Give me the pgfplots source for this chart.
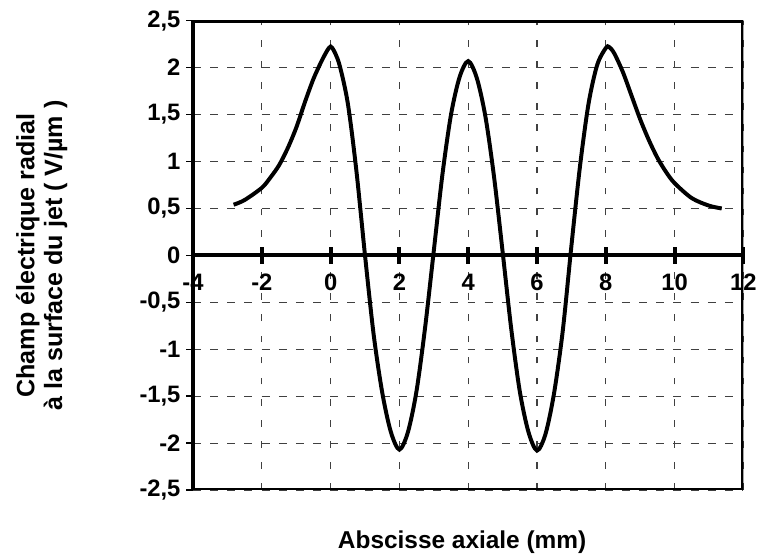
\documentclass[border=0pt]{standalone}
\usepackage{fontspec}
\setmainfont{Liberation Sans}
\usepackage{pgfplots}
\pgfplotsset{compat=1.18}
\begin{document}
\begin{tikzpicture}
\begin{axis}[
  scale only axis, width=417pt, height=355.5pt,
  xmin=-4, xmax=12, ymin=-2.5, ymax=2.5,
  axis x line*=middle, axis y line*=left,
  hide obscured x ticks=false, hide obscured y ticks=false,
  xtick={-4,-2,0,2,4,6,8,10,12},
  ytick={-2.5,-2,-1.5,-1,-0.5,0,0.5,1,1.5,2,2.5},
  grid=major,
  major x grid style={black!75, line width=0.8pt, dash pattern=on 5pt off 11pt},
  major y grid style={black!75, line width=0.8pt, dash pattern=on 6pt off 7pt},
  axis line style={line width=3pt, black},
  major tick length=5pt,
  xtick align=center, ytick align=outside,
  xtick style={line width=3pt, black, /pgfplots/major tick length=13pt},
  ytick style={line width=1pt, black},
  ticklabel style={font=\fontsize{18}{20}\selectfont\bfseries},
  xticklabel style={yshift=-8pt},
  yticklabel style={xshift=-1pt},
  /pgf/number format/.cd, use comma, fixed, assume math mode=true,
  /pgfplots/.cd,
  xlabel={Abscisse axiale (mm)},
  every axis x label/.style={at={(axis description cs:0.489,-0.112)}, anchor=center,
    font=\fontsize{18.5}{21}\selectfont\bfseries},
  ylabel={Champ électrique radial\\à la surface du jet ( V/µm )},
  every axis y label/.style={at={(axis description cs:-0.275,0.5)}, rotate=90,
    anchor=center, align=center, font=\fontsize{19}{21}\selectfont\bfseries},
]
\addplot[black, line width=3pt, smooth] coordinates {
(-2.82,0.54) (-2.5,0.59) (-2.0,0.72) (-1.75,0.83) (-1.5,0.96) (-1.25,1.14)
(-1.0,1.36) (-0.75,1.63) (-0.5,1.88) (-0.25,2.08) (-0.05,2.21) (0.05,2.21)
(0.25,2.04) (0.5,1.62) (0.75,0.90) (1.0,0.0) (1.25,-0.84) (1.5,-1.46)
(1.75,-1.88) (2.0,-2.07) (2.25,-1.88) (2.5,-1.44) (2.75,-0.76) (3.0,0.05)
(3.25,0.86) (3.5,1.50) (3.75,1.90) (4.0,2.07) (4.25,1.89) (4.5,1.48)
(4.75,0.84) (5.0,0.04) (5.25,-0.78) (5.5,-1.45) (5.75,-1.88) (6.0,-2.08)
(6.25,-1.90) (6.5,-1.46) (6.75,-0.80) (7.0,0.10) (7.25,0.95) (7.5,1.62)
(7.75,2.03) (8.0,2.21) (8.1,2.22) (8.25,2.15) (8.5,1.95) (8.75,1.70)
(9.0,1.45) (9.25,1.23) (9.5,1.04) (9.75,0.89) (10.0,0.77) (10.5,0.61)
(11.0,0.53) (11.37,0.50)
};
\draw[line width=3pt, black] (rel axis cs:0,0) rectangle (rel axis cs:1,1);
\end{axis}
\path ([shift={(-146.25pt,-51pt)}]current axis.south west) rectangle ([shift={(7.5pt,15.75pt)}]current axis.north east);
\end{tikzpicture}
\end{document}
